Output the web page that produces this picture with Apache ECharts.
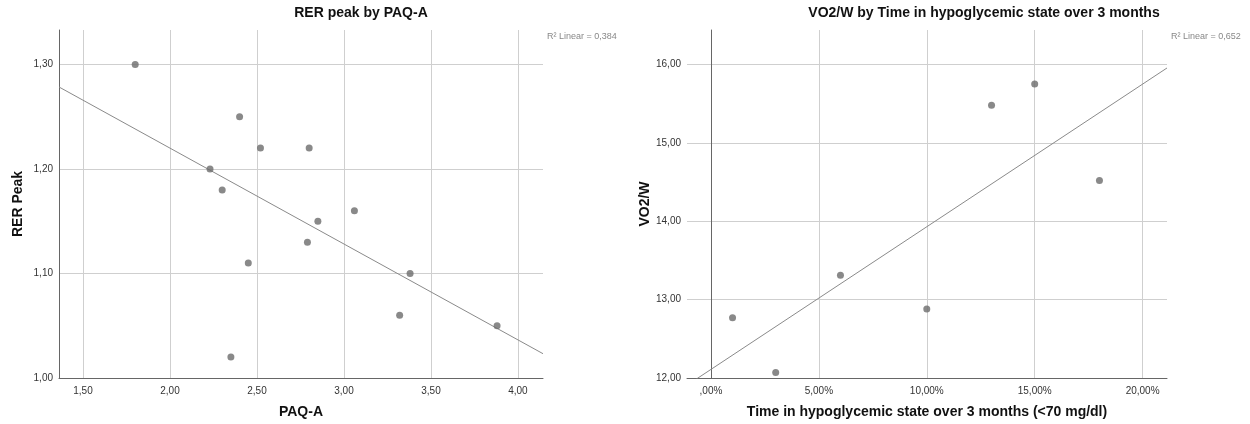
<!DOCTYPE html>
<html>
<head>
<meta charset="utf-8">
<title>RER peak / VO2/W scatter</title>
<script src="https://cdn.jsdelivr.net/npm/echarts@6/dist/echarts.min.js"></script>
<style>
  *{ margin:0; padding:0; }
  body{ background:#fff; }
  #chart{ width:1250px; height:424px; }
</style>
</head>
<body>
<div id="chart"></div>
<script>
// left panel: RER peak by PAQ-A
var paqA    = [1.80, 2.40, 2.52, 2.80, 2.23, 2.30, 3.06, 2.85, 2.79, 2.45, 3.38, 3.32, 3.88, 2.35];
var rerPeak = [1.30, 1.25, 1.22, 1.22, 1.20, 1.18, 1.16, 1.15, 1.13, 1.11, 1.10, 1.06, 1.05, 1.02];
var paqTicks = [1.5, 2.0, 2.5, 3.0, 3.5, 4.0];
var rerTicks = [1.0, 1.1, 1.2, 1.3];

// right panel: VO2/W by time in hypoglycemic state (%)
var hypoTime = [1, 3, 6, 10, 13, 15, 18];
var vo2w     = [12.77, 12.07, 13.31, 12.88, 15.48, 15.75, 14.52];
var hypoTicks = [0, 5, 10, 15, 20];
var vo2Ticks  = [12, 13, 14, 15, 16];

var FONT = 'Arial, "Liberation Sans", sans-serif';

function pairs(xs, ys){
  return xs.map(function(x, i){ return [x, ys[i]]; });
}
// least squares fit, drawn from axis min to axis max
function fit(xs, ys, x0, x1){
  var n = xs.length, mx = 0, my = 0, sxy = 0, sxx = 0;
  for (var i = 0; i < n; i++){ mx += xs[i]; my += ys[i]; }
  mx /= n; my /= n;
  for (var j = 0; j < n; j++){
    sxy += (xs[j]-mx)*(ys[j]-my);
    sxx += (xs[j]-mx)*(xs[j]-mx);
  }
  var b = sxy/sxx, a = my - b*mx;
  return [[x0, a + b*x0], [x1, a + b*x1]];
}
function comma(v){ return v.toFixed(2).replace('.', ','); }
function pct(v){
  var s = comma(v);
  if (s.charAt(0) === '0') s = s.substring(1);
  return s + '%';
}

function xAx(idx, min, max, ticks, name, fmt){
  return {
    type:'value', gridIndex:idx, min:min, max:max,
    name:name, nameLocation:'middle', nameGap:27,
    nameTextStyle:{ fontFamily:FONT, fontSize:14, fontWeight:'bold', color:'#111' },
    axisLine:{ show:true, lineStyle:{ color:'#666', width:1 } },
    axisTick:{ show:false, customValues:ticks },
    axisLabel:{ customValues:ticks, formatter:fmt, fontFamily:FONT, fontSize:10, color:'#333', margin:8 },
    splitLine:{ show:true, lineStyle:{ color:'#cfcfcf', width:1 } }
  };
}
function yAx(idx, min, max, ticks, name){
  return {
    type:'value', gridIndex:idx, min:min, max:max,
    name:name, nameLocation:'middle', nameGap:34,
    nameTextStyle:{ fontFamily:FONT, fontSize:14, fontWeight:'bold', color:'#111' },
    axisLine:{ show:true, lineStyle:{ color:'#666', width:1 } },
    axisTick:{ show:false, customValues:ticks },
    axisLabel:{ customValues:ticks, formatter:comma, fontFamily:FONT, fontSize:10, color:'#333', margin:6 },
    splitLine:{ show:true, lineStyle:{ color:'#cfcfcf', width:1 } }
  };
}

var L = { xmin:1.362, xmax:4.144, ymin:1.0, ymax:1.333 };
var R = { xmin:-1.11, xmax:21.13, ymin:12.0, ymax:16.44 };

var chart = echarts.init(document.getElementById('chart'));
chart.setOption({
  animation:false,
  backgroundColor:'#fff',
  grid:[
    { left:59, top:30, width:484, height:349 },
    { left:687, top:30, width:480, height:349 }
  ],
  xAxis:[
    xAx(0, L.xmin, L.xmax, paqTicks, 'PAQ-A', comma),
    xAx(1, R.xmin, R.xmax, hypoTicks, 'Time in hypoglycemic state over 3 months (<70 mg/dl)', pct)
  ],
  yAxis:[
    yAx(0, L.ymin, L.ymax, rerTicks, 'RER Peak'),
    yAx(1, R.ymin, R.ymax, vo2Ticks, 'VO2/W')
  ],
  graphic:[
    { type:'text', x:361, y:6, style:{ text:'RER peak by PAQ-A', font:'bold 14px ' + FONT, fill:'#111', align:'center' } },
    { type:'text', x:984, y:6, style:{ text:'VO2/W by Time in hypoglycemic state over 3 months', font:'bold 14px ' + FONT, fill:'#111', align:'center' } },
    { type:'text', x:547, y:32, style:{ text:'R\u00b2 Linear = 0,384', font:'9px ' + FONT, fill:'#888' } },
    { type:'text', x:1171, y:32, style:{ text:'R\u00b2 Linear = 0,652', font:'9px ' + FONT, fill:'#888' } }
  ],
  series:[
    { type:'line', xAxisIndex:0, yAxisIndex:0, data:fit(paqA, rerPeak, L.xmin, L.xmax),
      showSymbol:false, lineStyle:{ color:'#8a8a8a', width:1 }, silent:true, z:2 },
    { type:'scatter', xAxisIndex:0, yAxisIndex:0, data:pairs(paqA, rerPeak),
      symbolSize:7, itemStyle:{ color:'#6b6b6b' }, z:3 },
    { type:'line', xAxisIndex:1, yAxisIndex:1, data:fit(hypoTime, vo2w, R.xmin, R.xmax),
      showSymbol:false, lineStyle:{ color:'#8a8a8a', width:1 }, silent:true, z:2 },
    { type:'scatter', xAxisIndex:1, yAxisIndex:1, data:pairs(hypoTime, vo2w),
      symbolSize:7, itemStyle:{ color:'#6b6b6b' }, z:3 }
  ]
});
</script>
</body>
</html>
